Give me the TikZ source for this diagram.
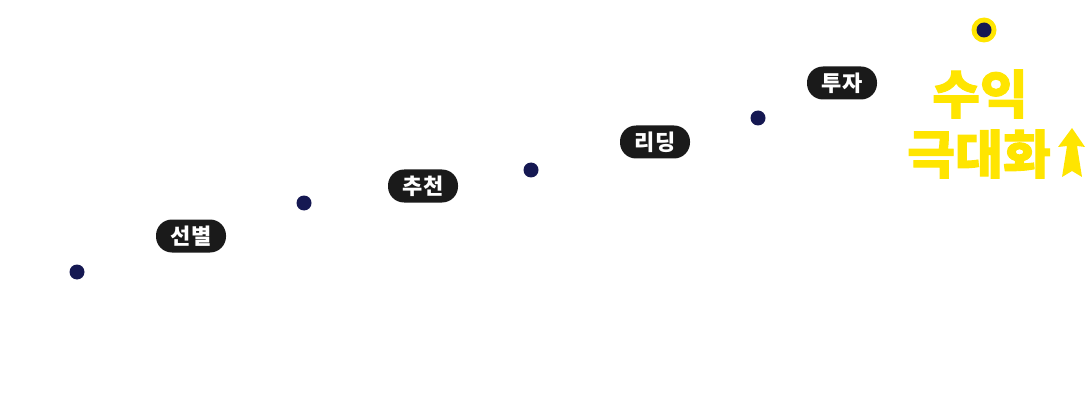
\documentclass[tikz,border=0pt]{standalone}
\usepackage{fontspec}
\setmainfont{Noto Sans CJK KR}
\newfontfamily\heavy{Noto Sans CJK KR}[BoldFeatures={FakeBold=1.8}]
\definecolor{navy}{HTML}{151852}
\definecolor{gold}{HTML}{FFE500}
\definecolor{pill}{HTML}{1A1A1A}
\begin{document}
\begin{tikzpicture}[
x=1pt,y=-1pt,
dot/.style={circle,fill=navy,inner sep=0pt,minimum size=15pt},
tag/.style={rectangle,rounded corners=16pt,fill=pill,text=white,
  font=\bfseries\fontsize{22}{22}\selectfont,
  minimum width=70pt,minimum height=33pt,inner sep=0pt},
goal/.style={text=gold,inner sep=0pt,font=\heavy\bfseries\fontsize{52}{52}\selectfont},
]
\useasboundingbox (0,0) rectangle (1091,414);
% steps
\node[dot] (d1) at (77,272) {};
\node[dot] (d2) at (304,203) {};
\node[dot] (d3) at (531,170) {};
\node[dot] (d4) at (758,118) {};
\node[tag] (t1) at (191,236) {선별};
\node[tag] (t2) at (423,186) {추천};
\node[tag] (t3) at (655,142) {리딩};
\node[tag] (t4) at (842,83) {투자};
% top
\node[circle,fill=gold,inner sep=0pt,minimum size=25pt] (top) at (984,30) {};
\node[dot] at (top) {};
\node[goal] (g1) at (980,94) {수익};
\node[goal] (g2) at (979,154) {극대화};
\fill[gold] (1072,128) -- (1085,147) -- (1077,146) -- (1082,177) -- (1072,171)
  -- (1062,177) -- (1067,146) -- (1058,147) -- cycle;
\end{tikzpicture}
\end{document}
